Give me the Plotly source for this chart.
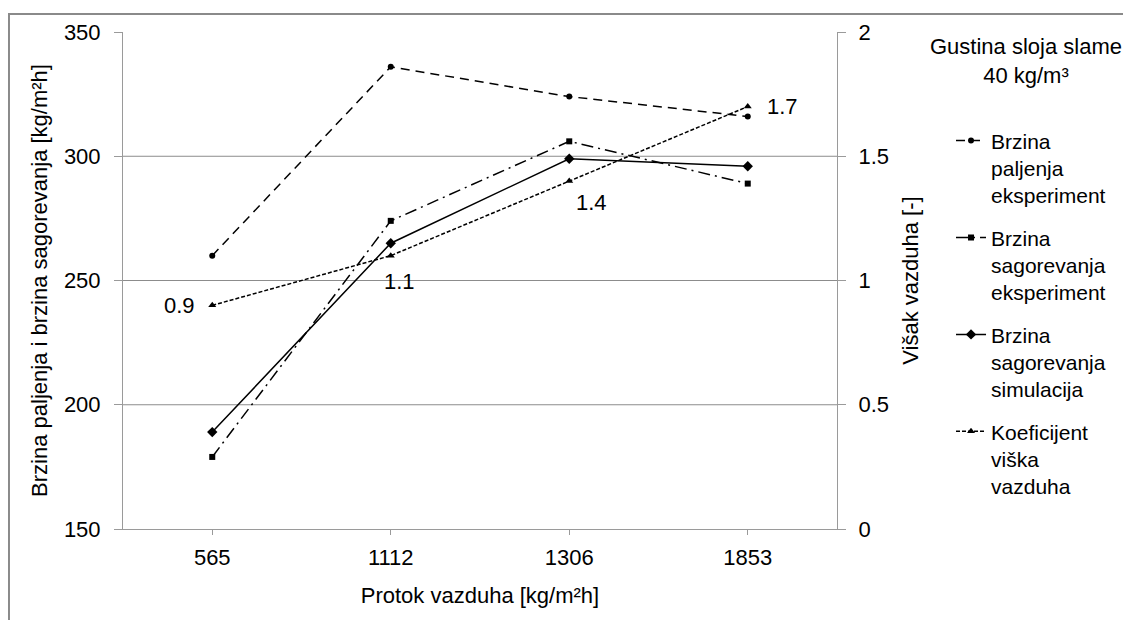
import plotly.graph_objects as go

categories = ["565", "1112", "1306", "1853"]
paljenja_eksp = [260, 336, 324, 316]
sagorevanja_eksp = [179, 274, 306, 289]
sagorevanja_sim = [189, 265, 299, 296]
koef_viska = [0.9, 1.1, 1.4, 1.7]
koef_labels = ["0.9", "1.1", "1.4", "1.7"]

left_ticks = [150, 200, 250, 300, 350]
right_ticks = [0, 0.5, 1, 1.5, 2]
right_ticklabels = ["0", "0.5", "1", "1.5", "2"]
grid_values = [200, 250, 300]

FONT = "Liberation Sans, Arial, sans-serif"
FS = 22
LFS = 21
AXC = "#9a9a9a"
GRC = "#8c8c8c"

fig = go.Figure()

fig.add_trace(go.Scatter(
    x=categories, y=paljenja_eksp, mode="lines+markers",
    name="Brzina<br>paljenja<br>eksperiment", legendgroup="a",
    line=dict(color="black", width=1.5, dash="9px,6px"),
    marker=dict(symbol="circle", size=6, color="black"),
))
fig.add_trace(go.Scatter(
    x=categories, y=sagorevanja_eksp, mode="lines+markers",
    name="Brzina<br>sagorevanja<br>eksperiment", legendgroup="b",
    line=dict(color="black", width=1.5, dash="12px,5px,2px,5px"),
    marker=dict(symbol="square", size=6, color="black"),
))
fig.add_trace(go.Scatter(
    x=categories, y=sagorevanja_sim, mode="lines+markers",
    name="Brzina<br>sagorevanja<br>simulacija", legendgroup="c",
    line=dict(color="black", width=1.5),
    marker=dict(symbol="diamond", size=8, color="black"),
))
fig.add_trace(go.Scatter(
    x=categories, y=koef_viska, mode="lines+markers", yaxis="y2",
    name="Koeficijent<br>viška<br>vazduha", legendgroup="d",
    line=dict(color="black", width=1.5, dash="4px,2px"),
    marker=dict(symbol="triangle-up", size=7, color="black"),
))

# data labels for the coefficient series (x given as category index)
label_offsets = [(-15, 0, "right"), (9, -26, "center"), (22, -21, "center"), (17, 0, "left")]
for i, (val, txt, (dx, dy, anc)) in enumerate(zip(koef_viska, koef_labels, label_offsets)):
    fig.add_annotation(x=i, y=val, xref="x", yref="y2", text=txt, showarrow=False,
                       xanchor=anc, yanchor="middle", xshift=dx, yshift=dy,
                       font=dict(family=FONT, size=FS, color="black"))

# horizontal gridlines
for g in grid_values:
    fig.add_shape(type="line", xref="paper", yref="y", x0=0, x1=1, y0=g, y1=g,
                  line=dict(color=GRC, width=1), layer="below")

# outer border
fig.add_shape(type="rect", xref="paper", yref="paper", x0=-0.1597, x1=1.45, y0=-0.25, y1=1.036,
              line=dict(color="#8a8a8a", width=2))

# top-right title
fig.add_annotation(xref="paper", yref="paper", x=1.2647, y=0.942,
                   text="Gustina sloja slame<br>40 kg/m³", showarrow=False,
                   xanchor="center", yanchor="middle", align="center",
                   font=dict(family=FONT, size=FS, color="black"))

fig.update_layout(
    width=1123, height=612,
    margin=dict(l=115, r=294, t=20, b=91),
    paper_bgcolor="white", plot_bgcolor="white",
    font=dict(family=FONT, size=FS, color="black"),
    showlegend=True,
    legend=dict(x=1.1597, y=0.822, xanchor="left", yanchor="top",
                valign="top", tracegroupgap=12, font=dict(family=FONT, size=LFS, color="black"),
                bgcolor="rgba(0,0,0,0)"),
    xaxis=dict(type="category", range=[-0.5, 3.5], showgrid=False, zeroline=False,
               showline=True, linecolor=AXC, linewidth=1, ticks="outside", ticklen=5,
               tickcolor=AXC, tickfont=dict(size=FS), ticklabelstandoff=4,
               title=dict(text="Protok vazduha [kg/m²h]", standoff=18, font=dict(size=FS))),
    yaxis=dict(range=[150, 350], tickvals=left_ticks, showgrid=False, zeroline=False,
               showline=True, linecolor=AXC, linewidth=1, ticks="outside", ticklen=8,
               tickcolor=AXC, tickfont=dict(size=FS), ticklabelstandoff=9,
               title=dict(text="Brzina paljenja i brzina sagorevanja [kg/m²h]", standoff=10,
                          font=dict(size=FS))),
    yaxis2=dict(range=[0, 2], tickvals=right_ticks, ticktext=right_ticklabels,
                overlaying="y", side="right", showgrid=False, zeroline=False,
                showline=True, linecolor=AXC, linewidth=1, ticks="outside", ticklen=8,
                tickcolor=AXC, tickfont=dict(size=FS), ticklabelstandoff=8,
                title=dict(text="Višak vazduha [-]", standoff=14, font=dict(size=FS))),
)

fig.write_html("out.html")
